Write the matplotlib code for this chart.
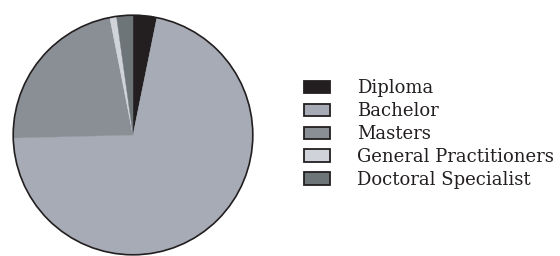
import matplotlib.pyplot as plt
from matplotlib.patches import Patch, Circle

# degree categories and shares (%)
labels = ['Diploma', 'Bachelor', 'Masters', 'General Practitioners', 'Doctoral Specialist']
shares = [3.2, 71.4, 22.3, 0.9, 2.2]
colors = ['#231f20', '#a7abb5', '#8a8f95', '#d0d4da', '#6e7579']

fig = plt.figure(figsize=(5.6, 2.56), dpi=100)
ax = fig.add_axes([12 / 560, 0.0, 242 / 560, 242 / 256])

wedges, _ = ax.pie(shares, colors=colors, startangle=90, counterclock=False,
                   radius=1.0)
for w in wedges:
    w.set_edgecolor(w.get_facecolor())
    w.set_linewidth(0.3)
ax.add_patch(Circle((0, 0), 1.0, fill=False, edgecolor='#231f20', linewidth=1.2))
ax.set_xlim(-1.01, 1.01)
ax.set_ylim(-1.01, 1.01)
ax.set_aspect('equal')
ax.axis('off')

fs = 13
px = fs * 100 / 72
handles = [Patch(facecolor=c, edgecolor='#231f20', linewidth=1.3) for c in colors]
leg = fig.legend(handles, labels, loc='center left', bbox_to_anchor=(304 / 560, 122 / 256),
                 frameon=False, borderpad=0, borderaxespad=0,
                 prop={'family': 'DejaVu Serif', 'size': fs},
                 handlelength=26 / px, handleheight=12 / px,
                 handletextpad=27 / px, labelspacing=0.27)
for t in leg.get_texts():
    t.set_color('#231f20')

plt.savefig('out.png', dpi=100)
